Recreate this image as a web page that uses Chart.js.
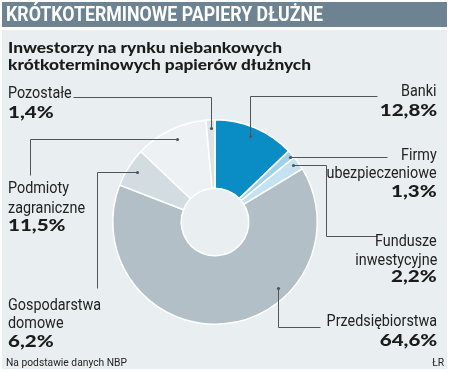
<!DOCTYPE html>
<html><head><meta charset="utf-8">
<script src="https://cdn.jsdelivr.net/npm/chart.js@4/dist/chart.umd.min.js"></script>
<style>
html,body{margin:0;padding:0;background:#fff;}
#wrap{position:relative;width:450px;height:372px;overflow:hidden;background:#fff;}
#band{position:absolute;left:2px;top:2px;width:445px;height:25px;background:#6d8391;}
#panel{position:absolute;left:2px;top:30px;width:445px;height:339px;background:#e9eef1;}
canvas{position:absolute;left:0;top:0;}
.t{position:absolute;white-space:nowrap;line-height:1;}
.lab{font-family:Roboto,"Liberation Sans",sans-serif;font-size:16px;color:#222;}
.num{font-family:Lato,"Open Sans",sans-serif;font-weight:900;font-size:16.5px;color:#1b1b1b;}
.title{font-family:Roboto,"Liberation Sans",sans-serif;font-weight:bold;font-size:20px;color:#fff;}
.sub{font-family:Lato,"Open Sans",sans-serif;font-weight:900;font-size:15px;color:#1b1b1b;}
.foot{font-family:Roboto,"Liberation Sans",sans-serif;font-size:10.5px;color:#222;}
</style></head><body>
<div id="wrap">
  <div id="band"></div>
  <div id="panel"></div>
  <canvas id="c" width="450" height="372"></canvas>
</div>
<script>
// ---- data ----
const title = 'KRÓTKOTERMINOWE PAPIERY DŁUŻNE';
const subtitleLines = ['Inwestorzy na rynku niebankowych', 'krótkoterminowych papierów dłużnych'];
const categories = ['Banki', 'Firmy ubezpieczeniowe', 'Fundusze inwestycyjne', 'Przedsiębiorstwa', 'Gospodarstwa domowe', 'Podmioty zagraniczne', 'Pozostałe'];
const categoryLines = [['Banki'], ['Firmy', 'ubezpieczeniowe'], ['Fundusze', 'inwestycyjne'], ['Przedsiębiorstwa'], ['Gospodarstwa', 'domowe'], ['Podmioty', 'zagraniczne'], ['Pozostałe']];
const shares = [12.8, 1.3, 2.2, 64.6, 6.2, 11.5, 1.4];
const sourceNote = 'Na podstawie danych NBP';
const author = 'ŁR';

// ---- styling / layout (no data) ----
const sliceColors = ['#0a8cc5', '#9fd1eb', '#c4e2f2', '#b2bfc7', '#d3dce1', '#eef1f3', '#dde2e5'];
// baselines: each line of name, then the value; side; target text widths
const labelLayout = [
  {side: 'r', base: [96, 116], w: [52], vw: 58},
  {side: 'r', base: [160, 178, 197], w: [40, 105], vw: 40},
  {side: 'r', base: [245.5, 265, 282], w: [59, 80], vw: 49},
  {side: 'r', base: [326, 346], w: [107], vw: 61},
  {side: 'l', base: [310, 328, 347], w: [91, 52], vw: 48},
  {side: 'l', base: [193, 213, 231], w: [60, 76], vw: 54},
  {side: 'l', base: [98, 118], w: [64], vw: 45}
];
const LEFT_X = 8, RIGHT_X = 437;
// leader lines: position inside slice (t along angle, f of outer radius), then orthogonal path
const leaders = [
  {t: 0.48, f: 0.91, path: [{y: 96}, {x: 377}]},
  {t: 0.62, f: 0.975, path: [{x: 387}]},
  {t: 0.38, f: 0.95, path: [{x: 326}, {y: 236}, {x: 377}]},
  {t: 0.333, f: 0.89, path: [{y: 327}, {x: 320}]},
  {t: 0.51, f: 0.9, path: [{x: 97}, {y: 288}]},
  {t: 0.52, f: 0.89, path: [{x: 30}, {y: 175}]},
  {t: 0.5, f: 0.92, path: [{y: 97}, {x: 73}]}
];

const wrap = document.getElementById('wrap');
function addText(cls, txt, x, baseline, align) {
  const el = document.createElement('div');
  el.className = 't ' + cls;
  el.textContent = txt;
  if (align === 'r') { el.style.right = (450 - x) + 'px'; el.style.transformOrigin = 'right top'; }
  else { el.style.left = x + 'px'; el.style.transformOrigin = 'left top'; }
  el.style.top = '0px';
  wrap.appendChild(el);
  const s = document.createElement('span');
  s.style.cssText = 'display:inline-block;width:0;height:0;vertical-align:baseline;';
  el.appendChild(s);
  const b = s.offsetTop;
  el.style.top = (baseline - b) + 'px';
  return el;
}
function fitGroup(items) {
  let nat = 0, tgt = 0;
  items.forEach(([el, w]) => { nat += el.getBoundingClientRect().width; tgt += w; });
  const s = tgt / nat;
  items.forEach(([el]) => { el.style.transform = 'scaleX(' + s + ')'; });
}
function fitOne(el, w) { fitGroup([[el, w]]); }

fitOne(addText('title', title, 6, 21, 'l'), 317);
fitOne(addText('sub', subtitleLines[0], 8, 53, 'l'), 274);
fitOne(addText('sub', subtitleLines[1], 8, 70, 'l'), 303);
fitOne(addText('foot', sourceNote, 6, 366, 'l'), 121);
fitOne(addText('foot', author, 444, 366, 'r'), 12);

const labGroup = [], numGroup = [];
categoryLines.forEach((lines, i) => {
  const L = labelLayout[i];
  const x = L.side === 'r' ? RIGHT_X : LEFT_X;
  lines.forEach((ln, j) => labGroup.push([addText('lab', ln, x, L.base[j], L.side), L.w[j]]));
  const vtxt = shares[i].toFixed(1).replace('.', ',') + '%';
  numGroup.push([addText('num', vtxt, x, L.base[lines.length], L.side), L.vw]);
});
fitGroup(labGroup);
fitGroup(numGroup);

const leaderPlugin = {
  id: 'leaders',
  afterDatasetsDraw(chart) {
    const ctx = chart.ctx;
    const arcs = chart.getDatasetMeta(0).data;
    ctx.save();
    ctx.strokeStyle = '#505558';
    ctx.fillStyle = '#505558';
    ctx.lineWidth = 1;
    leaders.forEach((ld, i) => {
      const a = arcs[i];
      const p = a.getProps(['x', 'y', 'startAngle', 'endAngle', 'outerRadius'], true);
      const ang = p.startAngle + ld.t * (p.endAngle - p.startAngle);
      const r = ld.f * p.outerRadius;
      let cx = Math.round(p.x + r * Math.cos(ang)) + 0.5;
      let cy = Math.round(p.y + r * Math.sin(ang)) + 0.5;
      ctx.beginPath();
      ctx.arc(cx, cy, 1.6, 0, Math.PI * 2);
      ctx.fill();
      ctx.beginPath();
      ctx.moveTo(cx, cy);
      ld.path.forEach(pt => {
        if (pt.x !== undefined) cx = Math.round(pt.x) + 0.5;
        if (pt.y !== undefined) cy = Math.round(pt.y) + 0.5;
        ctx.lineTo(cx, cy);
      });
      ctx.stroke();
    });
    ctx.restore();
  }
};

new Chart(document.getElementById('c'), {
  type: 'doughnut',
  data: {
    labels: categories,
    datasets: [{
      data: shares,
      backgroundColor: sliceColors,
      borderColor: '#ffffff',
      borderWidth: 1.5,
      hoverOffset: 0
    }]
  },
  options: {
    responsive: false,
    animation: false,
    cutout: '33%',
    rotation: 0,
    layout: {padding: {left: 112, right: 132, top: 119, bottom: 47}},
    plugins: {legend: {display: false}, tooltip: {enabled: false}},
    events: []
  },
  plugins: [leaderPlugin]
});
</script>
</body></html>
